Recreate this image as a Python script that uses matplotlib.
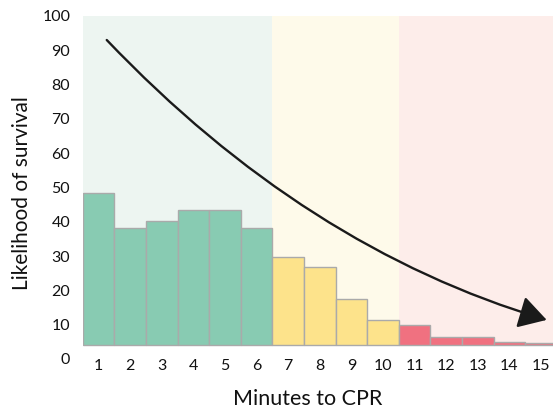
import numpy as np
import matplotlib.pyplot as plt
from matplotlib.patches import FancyArrowPatch
from matplotlib.path import Path

plt.rcParams['font.family'] = ['Lato', 'DejaVu Sans']

# --- дані ---
minutes = np.arange(1, 16)
survival = [48.4, 38.2, 40.2, 43.4, 43.4, 38.2, 29.6, 26.7, 17.4, 11.4,
            9.8, 6.3, 6.3, 5.1, 4.8]
zones = ['green'] * 6 + ['yellow'] * 4 + ['red'] * 5
yticks = np.arange(0, 101, 10)

# стрілка тренду: початок, контрольна точка, кінець (координати даних)
trend_start = (1.26, 93.0)
trend_ctrl = (7.53, 32.4)
trend_end = (15.18, 11.4)

bar_colors = {'green': '#88cbb2', 'yellow': '#fde38b', 'red': '#f07180'}
bg_colors = {'green': '#edf5f1', 'yellow': '#fefaea', 'red': '#fdedea'}
base = 4.0

fig = plt.figure(figsize=(5.53, 4.08), dpi=100)
ax = fig.add_axes([0.1496, 0.1201, 0.8504, 0.8407])

# фонові зони
zone_edges = {'green': (0.5, 6.5), 'yellow': (6.5, 10.5), 'red': (10.5, 16.0)}
for z, (x0, x1) in zone_edges.items():
    ax.axvspan(x0, x1, ymin=base / 100, ymax=1.0, color=bg_colors[z], lw=0, zorder=0)

heights = [v - base for v in survival]
ax.bar(minutes, heights, bottom=base, width=1.0,
       color=[bar_colors[z] for z in zones], edgecolor='#aaaaaa', linewidth=1.0, zorder=2)

# крива-стрілка (квадратична Безьє)
trend_path = Path([trend_start, trend_ctrl, trend_end],
                  [Path.MOVETO, Path.CURVE3, Path.CURVE3])
arrow = FancyArrowPatch(path=trend_path, transform=ax.transData,
                        arrowstyle='-|>,head_length=0.85,head_width=0.5',
                        mutation_scale=20, color='#1a1a1a', lw=1.7, zorder=4)
ax.add_patch(arrow)

ax.set_xlim(0.5, 15.38)
ax.set_ylim(0, 100)
ax.set_xticks(minutes)
ax.set_yticks(yticks)
ax.tick_params(axis='both', length=0, labelsize=11.5, colors='#111111')
ax.tick_params(axis='y', pad=9)
ax.tick_params(axis='x', pad=0)
for s in ax.spines.values():
    s.set_visible(False)

fig.text(307.5 / 553, 1 - 405 / 408, 'Minutes to CPR', ha='center', va='baseline',
         fontsize=15.5, color='#111111')
fig.text(22 / 553, 1 - 193 / 408, 'Likelihood of survival', ha='center', va='center',
         rotation=90, fontsize=15, color='#111111')

fig.savefig('out.png', dpi=100)
